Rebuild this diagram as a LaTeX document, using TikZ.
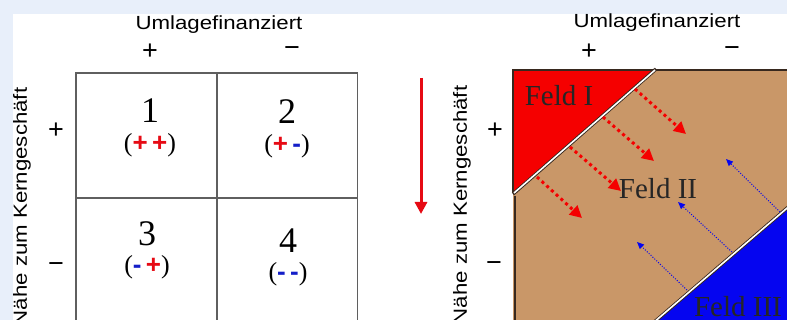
\documentclass[tikz,border=0pt]{standalone}
\usepackage{fontspec}
\setmainfont{Liberation Serif}
\newfontfamily\axisfont{Liberation Sans}
\usetikzlibrary{arrows.meta,positioning}

\definecolor{bgblue}{RGB}{232,239,250}
\definecolor{gridgray}{RGB}{95,95,95}
\definecolor{feldred}{RGB}{245,0,0}
\definecolor{feldtan}{RGB}{201,151,104}
\definecolor{feldblue}{RGB}{5,5,240}
\definecolor{edgebrown}{RGB}{55,40,30}
\definecolor{signred}{RGB}{230,10,20}
\definecolor{signblue}{RGB}{20,30,200}

\newcommand{\pp}{\textcolor{signred}{\axisfont\bfseries +}}
\newcommand{\mm}{\textcolor{signblue}{\axisfont\bfseries -}}

\begin{document}
\begin{tikzpicture}[
  x=1pt, y=-1pt,
  axis/.style={font=\axisfont\fontsize{19}{22}\selectfont, inner sep=0pt},
  sign/.style={font=\axisfont\fontsize{27}{30}\selectfont, inner sep=0pt},
  cell/.style={draw=gridgray, line width=1.5pt, minimum width=141pt, minimum height=125pt, inner sep=0pt},
  cellnum/.style={font=\fontsize{36}{38}\selectfont, inner sep=0pt},
  cellpair/.style={font=\fontsize{26}{28}\selectfont, inner sep=0pt},
  feld/.style={font=\fontsize{29}{32}\selectfont, text=black!85, inner sep=0pt},
  edge_line/.style={draw=edgebrown, line width=1.2pt},
  diag_line/.style={draw=edgebrown, line width=3.4pt},
  diag_white/.style={draw=white, line width=1.6pt},
  shift_arr/.style={-{Triangle[length=12pt,width=12pt]}, color=signred, line width=3pt},
  push_arr/.style={-{Triangle[length=12pt,width=12pt]}, color=feldred, line width=3pt, dash pattern=on 3pt off 3.4pt},
  pull_arr/.style={-{Triangle[length=7pt,width=6pt]}, color=feldblue, line width=1pt, dash pattern=on 1pt off 1.6pt}
]
  \useasboundingbox (0,0) rectangle (787,320);
  \clip (0,0) rectangle (787,320);

  % Background
  \fill[bgblue] (0,0) rectangle (787,320);
  \fill[white] (13,14) rectangle (787,320);

  % Left: four-field matrix
  \node[axis] (ltitle) at (219,25) {\scalebox{1.17}[1]{Umlagefinanziert}};
  \node[sign] (lplus) at (150,52) {+};
  \node[sign] (lminus) at (292,52) {\textminus};
  \node[axis, rotate=90] (lside) at (22,207) {\scalebox{1.17}[1]{Nähe zum Kerngeschäft}};
  \node[sign] (lsplus) at (56,131) {+};
  \node[sign] (lsminus) at (56,268) {\textminus};

  \node[cell] (c1) at (146.5,135.5) {};
  \node[cell] (c2) at (287,135.5) {};
  \node[cell] (c3) at (146.5,260.5) {};
  \node[cell] (c4) at (287,260.5) {};

  \node[cellnum] (n1) at (150,111) {1};
  \node[cellpair, below=10pt of n1] (p1) {(\pp\,\pp)};
  \node[cellnum] (n2) at (287,112) {2};
  \node[cellpair, below=10pt of n2] (p2) {(\pp\,\mm)};
  \node[cellnum] (n3) at (147,234) {3};
  \node[cellpair, below=9pt of n3] (p3) {(\mm\,\pp)};
  \node[cellnum] (n4) at (288,241) {4};
  \node[cellpair, below=9pt of n4] (p4) {(\mm\,\mm)};

  % Shift arrow between the two parts
  \coordinate (shifttop) at (421,78);
  \coordinate (shiftbot) at (421,214);
  \draw[shift_arr] (shifttop) -- (shiftbot);

  % Right: three fields
  \node[axis] (rtitle) at (657,23) {\scalebox{1.17}[1]{Umlagefinanziert}};
  \node[sign] (rplus) at (589,52) {+};
  \node[sign] (rminus) at (732,52) {\textminus};
  \node[axis, rotate=90] (rside) at (462,205) {\scalebox{1.17}[1]{Nähe zum Kerngeschäft}};
  \node[sign] (rsplus) at (495,131) {+};
  \node[sign] (rsminus) at (494,267) {\textminus};

  \fill[feldtan] (513,70) rectangle (800,330);
  \fill[feldred] (513,70) -- (654,70) -- (513,193) -- cycle;
  \fill[feldblue] (645,330) -- (800,197) -- (800,330) -- cycle;
  \draw[edge_line] (800,70) -- (513,70) -- (513,193);
  \draw[edge_line] (515,196) -- (515,330);
  \draw[diag_line] (656,69) -- (513,194);
  \draw[diag_white] (655,70) -- (514,193);
  \draw[diag_line] (645,330) -- (800,197);
  \draw[diag_white] (646,329) -- (800,197);

  \node[feld] (feld1) at (559,96) {Feld I};
  \node[feld] (feld2) at (658,189) {Feld II};
  \node[feld] (feld3) at (738,307) {Feld III};

  % Dotted arrows out of Feld I
  \coordinate (push1s) at (635,89);
  \coordinate (push1e) at (686,134);
  \coordinate (push2s) at (603,117);
  \coordinate (push2e) at (654,161);
  \coordinate (push3s) at (570,147);
  \coordinate (push3e) at (621,191);
  \coordinate (push4s) at (537,177);
  \coordinate (push4e) at (582,218);
  \draw[push_arr] (push1s) -- (push1e);
  \draw[push_arr] (push2s) -- (push2e);
  \draw[push_arr] (push3s) -- (push3e);
  \draw[push_arr] (push4s) -- (push4e);

  % Dotted arrows out of Feld III
  \coordinate (pull1s) at (780,212);
  \coordinate (pull1e) at (726,159);
  \coordinate (pull2s) at (732,252);
  \coordinate (pull2e) at (678,202);
  \coordinate (pull3s) at (687,290);
  \coordinate (pull3e) at (637,242);
  \draw[pull_arr] (pull1s) -- (pull1e);
  \draw[pull_arr] (pull2s) -- (pull2e);
  \draw[pull_arr] (pull3s) -- (pull3e);
\end{tikzpicture}
\end{document}
